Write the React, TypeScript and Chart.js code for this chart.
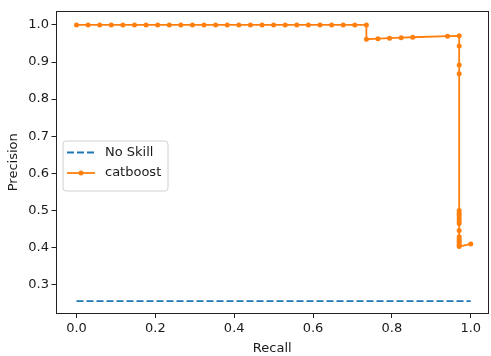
import React, { useEffect, useRef } from 'react';
import { Chart, registerables } from 'chart.js';

Chart.register(...registerables);

// ---- data ----
const recall = [
  0, 0.0294, 0.0588, 0.0882, 0.1176, 0.1471, 0.1765, 0.2059, 0.2353, 0.2647,
  0.2941, 0.3235, 0.3529, 0.3824, 0.4118, 0.4412, 0.4706, 0.5, 0.5294, 0.5588,
  0.5882, 0.6176, 0.6471, 0.6765, 0.7059, 0.7353,
  0.7353, 0.7647, 0.7941, 0.8235, 0.8529, 0.9412, 0.9706,
  0.9706, 0.9706, 0.9706,
  0.9706, 0.9706, 0.9706, 0.9706, 0.9706, 0.9706,
  0.9706,
  0.9706, 0.9706, 0.9706, 0.9706, 0.9706, 0.9706,
  1.0,
];
const precision = [
  1, 1, 1, 1, 1, 1, 1, 1, 1, 1,
  1, 1, 1, 1, 1, 1, 1, 1, 1, 1,
  1, 1, 1, 1, 1, 1,
  0.9615, 0.963, 0.9643, 0.9655, 0.9667, 0.9697, 0.9706,
  0.9429, 0.8919, 0.8684,
  0.5, 0.4925, 0.4853, 0.4783, 0.4714, 0.4648,
  0.4459,
  0.4286, 0.4231, 0.4177, 0.4125, 0.4074, 0.4024,
  0.4096,
];
const noSkillRecall = [0, 1];
const noSkillPrecision = [0.2556, 0.2556];
const seriesLabels = ['No Skill', 'catboost'];
const xTicks = [0, 0.2, 0.4, 0.6, 0.8, 1.0];
const yTicks = [0.3, 0.4, 0.5, 0.6, 0.7, 0.8, 0.9, 1.0];
const xTitle = 'Recall';
const yTitle = 'Precision';

const X_MIN = -0.052;
const X_MAX = 1.045;
const Y_MIN = 0.222;
const Y_MAX = 1.0375;

const BLUE = '#1f77b4';
const ORANGE = '#ff7f0e';
const FONT = "'DejaVu Sans', sans-serif";
const FS = 13;
const TEXT = '#1a1a1a';

const spinesPlugin = {
  id: 'spines',
  afterDatasetsDraw(chart: any) {
    const { ctx, chartArea } = chart;
    const l = Math.round(chartArea.left) + 0.5;
    const t = Math.round(chartArea.top) + 0.5;
    const r = Math.round(chartArea.right) - 0.5;
    const b = Math.round(chartArea.bottom) - 0.5;
    ctx.save();
    ctx.strokeStyle = '#222';
    ctx.lineWidth = 1;
    ctx.strokeRect(l, t, r - l, b - t);
    ctx.restore();
  },
};

const legendPlugin = {
  id: 'mplLegend',
  afterDatasetsDraw(chart: any) {
    const { ctx, chartArea } = chart;
    const bx = chartArea.left + 7;
    const by = chartArea.top + 130;
    const bw = 105;
    const bh = 50;
    const rad = 3;
    ctx.save();
    ctx.beginPath();
    ctx.moveTo(bx + rad, by);
    ctx.lineTo(bx + bw - rad, by);
    ctx.arcTo(bx + bw, by, bx + bw, by + rad, rad);
    ctx.lineTo(bx + bw, by + bh - rad);
    ctx.arcTo(bx + bw, by + bh, bx + bw - rad, by + bh, rad);
    ctx.lineTo(bx + rad, by + bh);
    ctx.arcTo(bx, by + bh, bx, by + bh - rad, rad);
    ctx.lineTo(bx, by + rad);
    ctx.arcTo(bx, by, bx + rad, by, rad);
    ctx.closePath();
    ctx.fillStyle = 'rgba(255,255,255,0.8)';
    ctx.fill();
    ctx.strokeStyle = '#d0d0d0';
    ctx.lineWidth = 1;
    ctx.stroke();

    const hx0 = bx + 4;
    const hx1 = bx + 32;
    const rows = [by + 11.5, by + 32];
    // No Skill
    ctx.beginPath();
    ctx.setLineDash([7, 3]);
    ctx.strokeStyle = BLUE;
    ctx.lineWidth = 1.8;
    ctx.moveTo(hx0, rows[0]);
    ctx.lineTo(hx1, rows[0]);
    ctx.stroke();
    ctx.setLineDash([]);
    // catboost
    ctx.beginPath();
    ctx.strokeStyle = ORANGE;
    ctx.moveTo(hx0, rows[1]);
    ctx.lineTo(hx1, rows[1]);
    ctx.stroke();
    ctx.beginPath();
    ctx.fillStyle = ORANGE;
    ctx.arc((hx0 + hx1) / 2, rows[1], 2.5, 0, Math.PI * 2);
    ctx.fill();

    ctx.fillStyle = TEXT;
    ctx.font = `${FS}px ${FONT}`;
    ctx.textAlign = 'left';
    ctx.textBaseline = 'middle';
    ctx.fillText(seriesLabels[0], bx + 42, rows[0]);
    ctx.fillText(seriesLabels[1], bx + 42, rows[1]);
    ctx.restore();
  },
};

export default function App() {
  const canvasRef = useRef<HTMLCanvasElement | null>(null);

  useEffect(() => {
    if (!canvasRef.current) return;
    const chart = new Chart(canvasRef.current, {
      type: 'scatter',
      data: {
        datasets: [
          {
            label: seriesLabels[0],
            data: noSkillRecall.map((x, i) => ({ x, y: noSkillPrecision[i] })),
            showLine: true,
            borderColor: BLUE,
            backgroundColor: BLUE,
            borderWidth: 1.8,
            borderDash: [7, 3],
            pointRadius: 0,
            pointHoverRadius: 0,
            fill: false,
          },
          {
            label: seriesLabels[1],
            data: recall.map((x, i) => ({ x, y: precision[i] })),
            showLine: true,
            borderColor: ORANGE,
            backgroundColor: ORANGE,
            borderWidth: 1.8,
            pointRadius: 2.5,
            pointBorderWidth: 0,
            pointHoverRadius: 2.5,
            fill: false,
          },
        ],
      },
      options: {
        animation: false,
        responsive: false,
        events: [],
        layout: { padding: { left: 0, top: 11, right: 1.5, bottom: 0 } },
        plugins: {
          legend: { display: false },
          tooltip: { enabled: false },
        },
        scales: {
          x: {
            type: 'linear',
            min: X_MIN,
            max: X_MAX,
            afterBuildTicks: (scale: any) => {
              scale.ticks = xTicks.map((v) => ({ value: v }));
            },
            afterFit: (scale: any) => {
              scale.height = 42.5;
            },
            grid: {
              display: true,
              drawOnChartArea: false,
              drawTicks: true,
              tickLength: 4.5,
              tickWidth: 1,
              tickColor: '#222',
            },
            border: { display: false },
            ticks: {
              autoSkip: false,
              maxRotation: 0,
              minRotation: 0,
              padding: 2.7,
              color: TEXT,
              font: { family: FONT, size: FS },
              callback: (v: any) => Number(v).toFixed(1),
            },
            title: {
              display: true,
              text: xTitle,
              color: TEXT,
              font: { family: FONT, size: FS, lineHeight: 1.1 },
              padding: { top: 0, bottom: 0 },
            },
          },
          y: {
            type: 'linear',
            min: Y_MIN,
            max: Y_MAX,
            afterBuildTicks: (scale: any) => {
              scale.ticks = yTicks.map((v) => ({ value: v }));
            },
            afterFit: (scale: any) => {
              scale.width = 56;
            },
            grid: {
              display: true,
              drawOnChartArea: false,
              drawTicks: true,
              tickLength: 4.5,
              tickWidth: 1,
              tickColor: '#222',
            },
            border: { display: false },
            ticks: {
              autoSkip: false,
              padding: 2.5,
              color: TEXT,
              font: { family: FONT, size: FS },
              callback: (v: any) => Number(v).toFixed(1),
            },
            title: {
              display: true,
              text: yTitle,
              color: TEXT,
              font: { family: FONT, size: FS, lineHeight: 1.1 },
              padding: { top: 6, bottom: 0 },
            },
          },
        },
      },
      plugins: [spinesPlugin, legendPlugin],
    } as any);
    return () => chart.destroy();
  }, []);

  return (
    <div style={{ position: 'absolute', left: 0, top: 0, width: 491, height: 356, background: '#fff' }}>
      <canvas ref={canvasRef} width={491} height={356} style={{ display: 'block' }} />
    </div>
  );
}
